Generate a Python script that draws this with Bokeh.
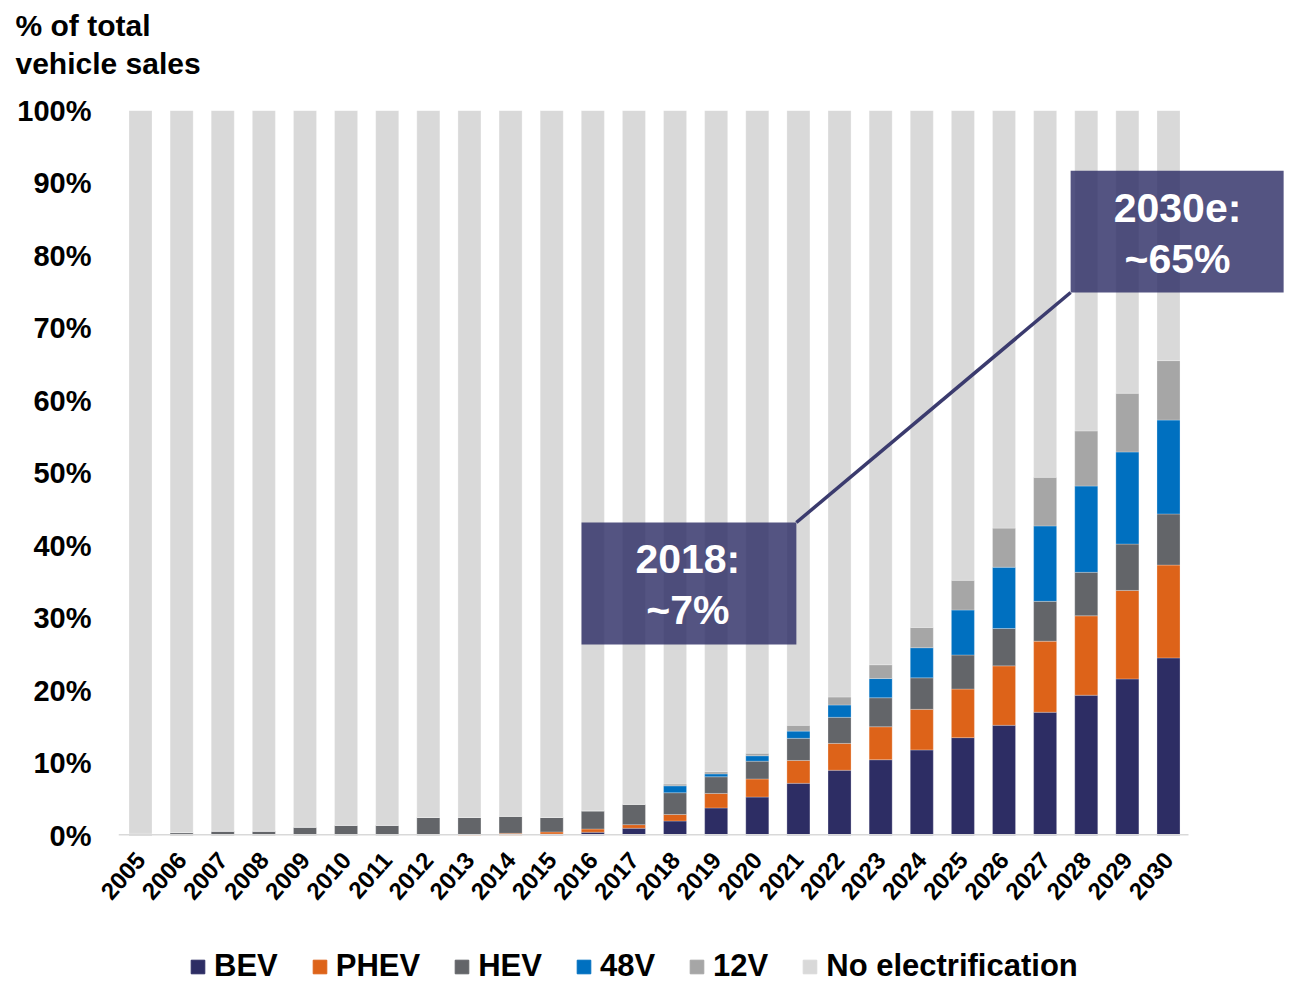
from bokeh.plotting import figure
from bokeh.layouts import column
from bokeh.models import (ColumnDataSource, FixedTicker, PrintfTickFormatter, Label,
                          BasicTickFormatter, Range1d, Title)
from bokeh.embed import file_html
from bokeh.resources import INLINE

years = list(range(2005, 2031))
bev = [0, 0, 0, 0, 0, 0, 0, 0, 0, 0, 0.2, 0.45, 1.0, 2.0, 3.8, 5.3, 7.2, 9.0, 10.45, 11.8,
       13.5, 15.2, 17.0, 19.35, 21.6, 24.5]
phev = [0, 0, 0, 0, 0, 0, 0, 0, 0.15, 0.3, 0.3, 0.45, 0.5, 0.9, 2.0, 2.5, 3.15, 3.7, 4.55,
        5.6, 6.7, 8.2, 9.8, 10.95, 12.2, 12.8]
hev = [0.3, 0.4, 0.6, 0.6, 1.15, 1.4, 1.4, 2.5, 2.35, 2.35, 2.0, 2.5, 2.8, 3.0, 2.3, 2.45,
       3.05, 3.6, 4.0, 4.35, 4.7, 5.15, 5.5, 6.0, 6.4, 7.05]
v48 = [0, 0, 0, 0, 0, 0, 0, 0, 0, 0, 0, 0, 0, 0.95, 0.4, 0.75, 1.0, 1.7, 2.65, 4.15, 6.2,
       8.45, 10.4, 11.9, 12.7, 12.95]
v12 = [0, 0, 0, 0, 0, 0, 0, 0, 0, 0, 0, 0, 0, 0.25, 0.3, 0.35, 0.8, 1.1, 1.9, 2.8, 4.1,
       5.4, 6.7, 7.6, 8.1, 8.2]
none_ = [round(100 - (a + b + c + d + e), 2) for a, b, c, d, e in zip(bev, phev, hev, v48, v12)]

series = ["BEV", "PHEV", "HEV", "48V", "12V", "No electrification"]
colors = ["#2d2d64", "#dd6319", "#636569", "#0070c0", "#a6a6a6", "#d9d9d9"]
y_ticks = [0, 10, 20, 30, 40, 50, 60, 70, 80, 90, 100]

FONT = "Liberation Sans"

src = ColumnDataSource(dict(year=years, BEV=bev, PHEV=phev, HEV=hev,
                            **{"48V": v48, "12V": v12, "No electrification": none_}))

x0 = 2005 - 22 / 41.12
x1 = 2030 + 120 / 41.12
p = figure(width=1288, height=915, output_backend="svg", toolbar_location=None,
           x_range=Range1d(x0, x1), y_range=Range1d(0, 100),
           min_border_left=118, min_border_right=0, min_border_top=110,
           min_border_bottom=80)
p.outline_line_color = None
p.xgrid.grid_line_color = None
p.ygrid.grid_line_color = None

# two-line header: outer line is the figure title, inner line + spacer added to "above"
title_style = dict(align="left", offset=-103, text_font=FONT, text_font_style="bold",
                   text_font_size="30px", text_color="black")
p.title.text = "% of total"
p.title.standoff = 6
for k, v in title_style.items():
    setattr(p.title, k, v)
p.add_layout(Title(text=" ", standoff=28, align="left", text_font_size="1px"), "above")
p.add_layout(Title(text="vehicle sales", standoff=0, **title_style), "above")

p.vbar_stack(series, x="year", width=0.56, color=colors, source=src,
             line_color="white", line_width=0.5, line_alpha=0.5)

# baseline
p.segment(x0=[x0], y0=[0], x1=[2030 + 20 / 41.12], y1=[0], line_color="#d9d9d9", line_width=3)

# axes
p.xaxis.ticker = FixedTicker(ticks=years)
p.xaxis.formatter = BasicTickFormatter(use_scientific=False)
p.xaxis.major_label_orientation = 0.85
p.xaxis.major_label_text_font = FONT
p.xaxis.major_label_text_font_style = "bold"
p.xaxis.major_label_text_font_size = "24px"
p.xaxis.major_label_text_color = "black"
p.xaxis.axis_line_color = None
p.xaxis.major_tick_line_color = None
p.xaxis.minor_tick_line_color = None
p.xaxis.major_tick_out = 0
p.xaxis.major_label_standoff = 20

p.yaxis.ticker = FixedTicker(ticks=y_ticks)
p.yaxis.formatter = PrintfTickFormatter(format="%d%%")
p.yaxis.major_label_text_font = FONT
p.yaxis.major_label_text_font_style = "bold"
p.yaxis.major_label_text_font_size = "29px"
p.yaxis.major_label_text_color = "black"
p.yaxis.axis_line_color = None
p.yaxis.major_tick_line_color = None
p.yaxis.minor_tick_line_color = None
p.yaxis.major_tick_out = 0
p.yaxis.major_label_standoff = 27

# connector line
p.line(x=[2020.95, 2027.62], y=[43.17, 74.9], line_color="#3b3b6e", line_width=3.5)

# callout boxes
box_fill = "#2e2e66"
p.quad(left=[2015.725, 2027.62], right=[2020.95, 2032.8], bottom=[26.34, 74.9],
       top=[43.17, 91.7], fill_color=box_fill, fill_alpha=0.82, line_color=None)

for txt, xx, yy in [("2018:", 2018.31, 38.07), ("~7%", 2018.31, 31.17),
                    ("2030e:", 2030.22, 86.55), ("~65%", 2030.22, 79.5)]:
    p.add_layout(Label(x=xx, y=yy, text=txt, text_font=FONT, text_font_style="bold",
                       text_font_size="41px", text_color="white", text_align="center",
                       text_baseline="middle"))

# legend strip (same stacked series, drawn outside this strip's visible range)
q = figure(width=1288, height=70, output_backend="svg", toolbar_location=None,
           x_range=Range1d(0, 1), y_range=Range1d(0, 1),
           x_axis_location=None, y_axis_location=None,
           min_border_left=0, min_border_right=0, min_border_top=0, min_border_bottom=0)
q.grid.visible = False
q.outline_line_color = None
q.vbar_stack(series, x="year", width=0.56, color=colors, source=src, legend_label=series)
leg = q.legend[0]
leg.orientation = "horizontal"
leg.location = (71, 1)
leg.label_text_font = FONT
leg.label_text_font_style = "bold"
leg.label_text_font_size = "31px"
leg.label_text_color = "black"
leg.glyph_width = 17
leg.glyph_height = 17
leg.label_standoff = 8
leg.spacing = 33
leg.padding = 0
leg.margin = 0
leg.border_line_color = None
leg.background_fill_alpha = 0

open("out.html", "w").write(file_html(column(p, q, spacing=0), INLINE))
